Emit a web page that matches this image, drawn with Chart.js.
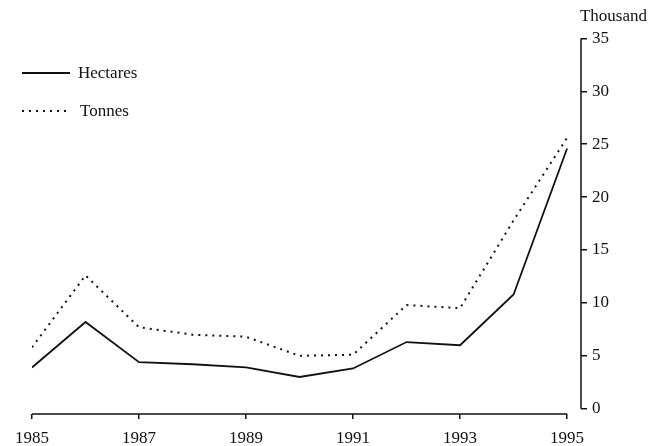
<!DOCTYPE html>
<html>
<head>
<meta charset="utf-8">
<script src="https://cdn.jsdelivr.net/npm/chart.js@4/dist/chart.umd.min.js"></script>
<style>
  body { margin: 0; background: #fff; }
  #wrap { position: relative; width: 649px; height: 446px; }
  .leg { position: absolute; left: 22px; display: flex; align-items: center;
         font-family: "Liberation Serif", serif; font-size: 17px; color: #111; }
  .leg .solid { width: 48px; height: 2px; background: #111; margin-right: 8px; }
  .leg .dots { width: 48px; height: 2px; margin-right: 10px;
               background: repeating-linear-gradient(to right, #111 0 2px, transparent 2px 7px); }
</style>
</head>
<body>
<div id="wrap">
  <canvas id="chart" width="649" height="446"></canvas>
  <div class="leg" style="top:63px"><span class="solid"></span>Hectares</div>
  <div class="leg" style="top:101px"><span class="dots"></span>Tonnes</div>
</div>
<script>
var years = [1985, 1986, 1987, 1988, 1989, 1990, 1991, 1992, 1993, 1994, 1995];
var hectares = [3.9, 8.2, 4.4, 4.2, 3.9, 3.0, 3.8, 6.3, 6.0, 10.8, 24.6];
var tonnes = [5.8, 12.6, 7.7, 7.0, 6.8, 5.0, 5.1, 9.8, 9.5, 17.8, 25.6];
var xTicks = [1985, 1987, 1989, 1991, 1993, 1995];
var yTicks = [0, 5, 10, 15, 20, 25, 30, 35];

function points(values) {
    return years.map(function (yr, i) { return { x: yr, y: values[i] }; });
}

// axis lines only over the labelled range, like the printed chart
var axisLines = {
    id: 'axisLines',
    afterDraw: function (chart) {
        var ctx = chart.ctx, x = chart.scales.x, y = chart.scales.y, area = chart.chartArea;
        ctx.save();
        ctx.strokeStyle = '#111';
        ctx.lineWidth = 1.5;
        ctx.beginPath();
        ctx.moveTo(x.getPixelForValue(xTicks[0]), area.bottom);
        ctx.lineTo(x.getPixelForValue(xTicks[xTicks.length - 1]), area.bottom);
        ctx.moveTo(area.right, y.getPixelForValue(yTicks[0]));
        ctx.lineTo(area.right, y.getPixelForValue(yTicks[yTicks.length - 1]));
        ctx.stroke();
        ctx.restore();
    }
};

var font = { family: '"Liberation Serif", serif', size: 17, weight: 'normal' };

var chart = new Chart(document.getElementById('chart').getContext('2d'), {
    type: 'line',
    data: {
        datasets: [{
            label: 'Hectares',
            data: points(hectares),
            borderColor: '#111',
            borderWidth: 1.8,
            pointRadius: 0,
            tension: 0,
            fill: false
        }, {
            label: 'Tonnes',
            data: points(tonnes),
            borderColor: '#111',
            borderWidth: 2,
            borderDash: [2, 5],
            pointRadius: 0,
            tension: 0,
            fill: false
        }]
    },
    options: {
        responsive: false,
        animation: false,
        layout: { padding: { left: 32, right: 2, top: 0, bottom: 0 } },
        plugins: {
            legend: { display: false },
            tooltip: { enabled: false },
            title: {
                display: true,
                text: 'Thousand',
                align: 'end',
                color: '#111',
                font: font,
                padding: { top: 6, bottom: 12 }
            }
        },
        scales: {
            x: {
                type: 'linear',
                min: 1985,
                max: 1995.26,
                afterBuildTicks: function (scale) {
                    scale.ticks = xTicks.map(function (v) { return { value: v }; });
                },
                afterFit: function (scale) { scale.height = 32; },
                border: { display: false },
                grid: { drawOnChartArea: false, drawTicks: true, tickLength: 5, tickColor: '#111', lineWidth: 1.5 },
                ticks: {
                    color: '#111',
                    font: font,
                    padding: 9,
                    maxRotation: 0,
                    callback: function (v) { return String(v); }
                }
            },
            y: {
                position: 'right',
                min: -0.5,
                max: 35,
                afterBuildTicks: function (scale) {
                    scale.ticks = yTicks.map(function (v) { return { value: v }; });
                },
                afterFit: function (scale) { scale.width = 66; },
                border: { display: false },
                grid: { drawOnChartArea: false, drawTicks: true, tickLength: 6, tickColor: '#111', lineWidth: 1.5 },
                ticks: {
                    color: '#111',
                    font: font,
                    padding: 5,
                    callback: function (v) { return String(v); }
                }
            }
        }
    },
    plugins: [axisLines]
});
</script>
</body>
</html>
